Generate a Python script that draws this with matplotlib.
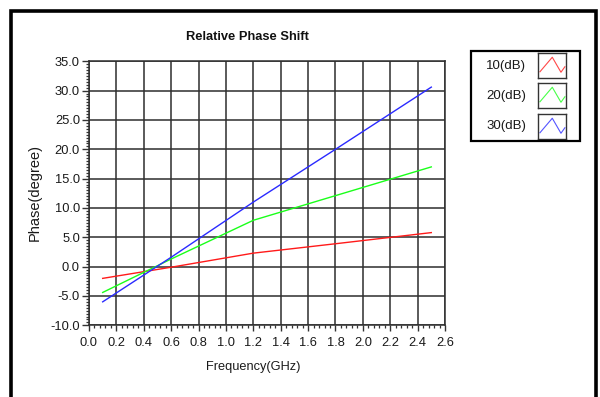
import matplotlib
matplotlib.use("Agg")
import matplotlib.pyplot as plt
from matplotlib.patches import Rectangle
from matplotlib.ticker import MultipleLocator, FormatStrFormatter
import numpy as np

# ---- data ----
freq = [0.1, 0.6, 1.2, 1.8, 2.5]
phase_10db = [-2.0, -0.1, 2.3, 3.9, 5.8]
phase_20db = [-4.4, 1.3, 7.9, 12.1, 17.0]
phase_30db = [-6.0, 1.6, 11.0, 20.0, 30.6]
series_labels = ["10(dB)", "20(dB)", "30(dB)"]
series_colors = ["#ff1a1a", "#1aff1a", "#2a2aff"]
title = "Relative Phase Shift"
xlabel = "Frequency(GHz)"
ylabel = "Phase(degree)"

W, H = 600, 397
plt.rcParams['font.family'] = ['Liberation Sans', 'DejaVu Sans']
fig = plt.figure(figsize=(W / 100, H / 100), dpi=100)

def fx(px):
    return px / W

def fy(py):
    return 1 - py / H

# plot area
ax = fig.add_axes([fx(89), fy(325.3), fx(445) - fx(89), fy(61.3) - fy(325.3)])
for vals, c in zip([phase_10db, phase_20db, phase_30db], series_colors):
    ax.plot(freq, vals, color=c, lw=1.0, zorder=3)

ax.set_xlim(0, 2.6)
ax.set_ylim(-10, 35)
ax.xaxis.set_major_locator(MultipleLocator(0.2))
ax.xaxis.set_minor_locator(MultipleLocator(0.04))
ax.yaxis.set_major_locator(MultipleLocator(5))
ax.yaxis.set_minor_locator(MultipleLocator(0.5))
ax.xaxis.set_major_formatter(FormatStrFormatter('%.1f'))
ax.yaxis.set_major_formatter(FormatStrFormatter('%.1f'))
ax.grid(True, which='major', color='#2e2e2e', lw=1.1)
for s in ax.spines.values():
    s.set_color('#2e2e2e')
    s.set_linewidth(1.1)
ax.tick_params(axis='both', which='major', direction='out', colors='#333333',
               labelcolor='#1a1a1a', labelsize=9.3)
ax.tick_params(axis='y', which='major', length=5, width=1, pad=1.5)
ax.tick_params(axis='y', which='minor', length=2.2, width=0.9, colors='#333333')
ax.tick_params(axis='x', which='major', length=4, width=1, pad=4.5)
ax.tick_params(axis='x', which='minor', length=2.5, width=0.9, colors='#333333')

# texts
fig.text(fx(247), fy(36.7), title, ha='center', va='center',
         fontsize=9.3, fontweight='bold', color='#111111')
fig.text(fx(253.5), fy(366.7), xlabel, ha='center', va='center',
         fontsize=9.2, color='#1a1a1a')
fig.text(fx(35), fy(192), ylabel, ha='center', va='center', rotation=90,
         fontsize=10.5, color='#1a1a1a')

# outer frame
fig.patches.append(Rectangle((fx(10.5), -0.1), fx(595.5) - fx(10.5), fy(11) + 0.1,
                             transform=fig.transFigure, fill=False,
                             edgecolor='black', lw=2.6, clip_on=False))

# legend box
fig.patches.append(Rectangle((fx(471), fy(141)), fx(580) - fx(471), fy(51) - fy(141),
                             transform=fig.transFigure, fill=False,
                             edgecolor='black', lw=1.6))
row_tops = [53, 83, 114]
for lab, c, top in zip(series_labels, series_colors, row_tops):
    fig.text(fx(526), fy(top + 12.5), lab, ha='right', va='center',
             fontsize=9.5, color='#1a1a1a')
    sw = fig.add_axes([fx(538), fy(top + 25), fx(566) - fx(538), fy(top) - fy(top + 25)])
    sw.plot([0.07, 0.51, 0.82, 0.96], [0.25, 0.83, 0.23, 0.45], color=c, lw=0.8,
            alpha=0.8)
    sw.set_xlim(0, 1)
    sw.set_ylim(0, 1)
    sw.set_xticks([])
    sw.set_yticks([])
    for s in sw.spines.values():
        s.set_color('#333333')
        s.set_linewidth(1.0)

fig.savefig('out.png', dpi=100)
